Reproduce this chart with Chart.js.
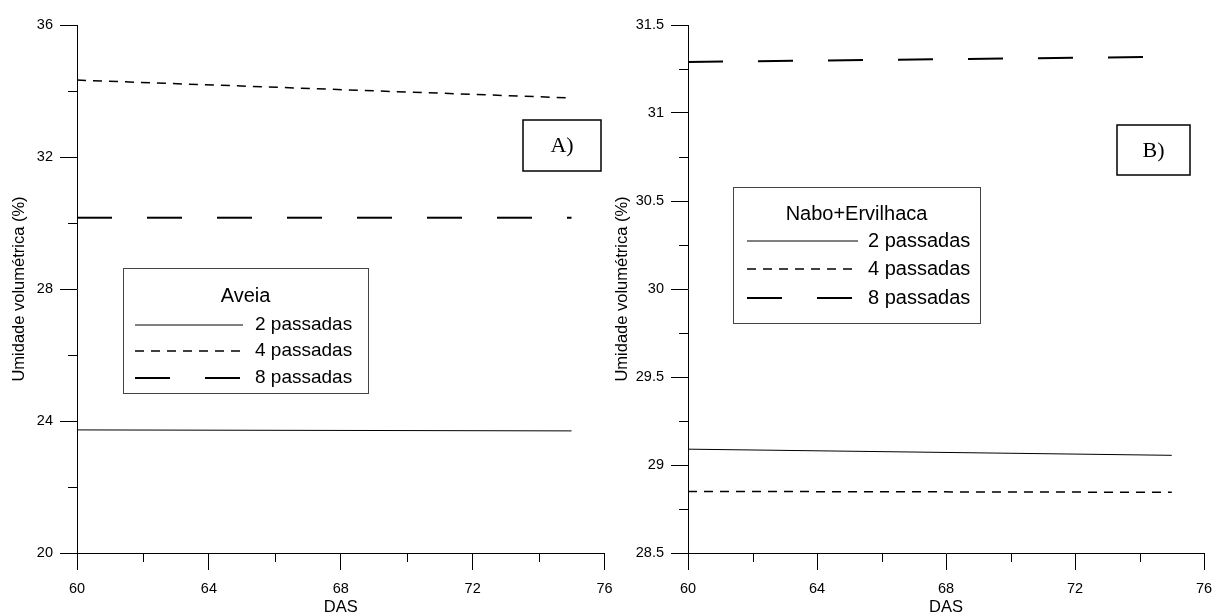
<!DOCTYPE html>
<html>
<head>
<meta charset="utf-8">
<script src="https://cdn.jsdelivr.net/npm/chart.js@4.4.1/dist/chart.umd.min.js"></script>
<style>
  html, body { margin: 0; padding: 0; background: #fff; }
  #chartA { position: absolute; left: 0; top: 0; }
  #chartB { position: absolute; left: 609px; top: 0; }
</style>
</head>
<body>
<canvas id="chartA" width="620" height="613"></canvas>
<canvas id="chartB" width="609" height="613"></canvas>
<script>
// DAS (dias após semeadura)
const das = [60, 75];

// A) Aveia
const aveia2 = [23.73, 23.70];
const aveia4 = [34.33, 33.79];
const aveia8 = [30.16, 30.16];

// B) Nabo+Ervilhaca
const nabo2 = [29.09, 29.055];
const nabo4 = [28.85, 28.845];
const nabo8 = [31.29, 31.32];

const seriesLabels = ['2 passadas', '4 passadas', '8 passadas'];

const xTicks = [60, 64, 68, 72, 76];
const xMinor = [62, 66, 70, 74];
const yTicksA = [20, 24, 28, 32, 36];
const yMinorA = [22, 26, 30, 34];
const yTicksB = [28.5, 29, 29.5, 30, 30.5, 31, 31.5];
const yMinorB = [28.75, 29.25, 29.75, 30.25, 30.75, 31.25];

const fontFamily = "'Liberation Sans', Arial, sans-serif";
const lineStyles = [
    { borderWidth: 1, borderDash: [] },
    { borderWidth: 1.5, borderDash: [9, 7] },
    { borderWidth: 2, borderDash: [35, 35] }
];

function toPoints(ys) {
    return das.map((x, i) => ({ x: x, y: ys[i] }));
}

// ticks secundários (menores) nos dois eixos
const minorTicks = {
    id: 'minorTicks',
    afterDraw(chart, args, opts) {
        const ctx = chart.ctx;
        const xs = chart.scales.x, ys = chart.scales.y;
        ctx.save();
        ctx.strokeStyle = '#000';
        ctx.lineWidth = 1;
        opts.x.forEach(v => {
            const px = Math.round(xs.getPixelForValue(v)) + 0.5;
            ctx.beginPath();
            ctx.moveTo(px, xs.top);
            ctx.lineTo(px, xs.top + opts.len);
            ctx.stroke();
        });
        opts.y.forEach(v => {
            const py = Math.round(ys.getPixelForValue(v)) + 0.5;
            ctx.beginPath();
            ctx.moveTo(ys.right, py);
            ctx.lineTo(ys.right - opts.len, py);
            ctx.stroke();
        });
        ctx.restore();
    }
};

// legenda com caixa, título e amostra das linhas
const boxLegend = {
    id: 'boxLegend',
    afterDraw(chart, args, opts) {
        const ctx = chart.ctx;
        const [bx, by, bw, bh] = opts.box;
        ctx.save();
        ctx.strokeStyle = '#444';
        ctx.lineWidth = 1;
        ctx.strokeRect(bx + 0.5, by + 0.5, bw, bh);
        ctx.fillStyle = '#000';
        ctx.textBaseline = 'middle';
        ctx.textAlign = 'center';
        ctx.font = opts.titleSize + 'px ' + fontFamily;
        ctx.fillText(opts.title, bx + bw / 2, opts.titleY);
        ctx.textAlign = 'left';
        ctx.font = opts.fontSize + 'px ' + fontFamily;
        ctx.strokeStyle = '#000';
        chart.data.datasets.forEach((ds, i) => {
            const y = opts.rows[i];
            ctx.beginPath();
            ctx.lineWidth = ds.borderWidth;
            ctx.setLineDash(ds.borderDash);
            ctx.moveTo(opts.lineX[0], y);
            ctx.lineTo(opts.lineX[1], y);
            ctx.stroke();
            ctx.setLineDash([]);
            ctx.fillText(ds.label, opts.textX, y);
        });
        // caixa com a letra do painel
        const [lx, ly, lw, lh] = opts.tag.box;
        ctx.lineWidth = 1.5;
        ctx.strokeRect(lx, ly, lw, lh);
        ctx.textAlign = 'center';
        ctx.font = "22px 'Liberation Serif', 'Times New Roman', serif";
        ctx.fillText(opts.tag.text, lx + lw / 2, ly + lh / 2 + 1);
        ctx.restore();
    }
};

function makeChart(id, series, yTicks, yMinor, cfg) {
    const yMin = yTicks[0], yMax = yTicks[yTicks.length - 1];
    return new Chart(document.getElementById(id), {
        type: 'line',
        data: {
            datasets: series.map((s, i) => ({
                label: seriesLabels[i],
                data: toPoints(s),
                borderColor: '#000',
                borderWidth: lineStyles[i].borderWidth,
                borderDash: lineStyles[i].borderDash,
                pointRadius: 0,
                fill: false,
                tension: 0
            }))
        },
        options: {
            responsive: false,
            animation: false,
            layout: { padding: { top: 25, right: cfg.padRight, left: 0, bottom: 0 } },
            scales: {
                x: {
                    type: 'linear',
                    min: 60,
                    max: 76,
                    afterBuildTicks: s => { s.ticks = xTicks.map(v => ({ value: v })); },
                    afterFit: s => { s.height = 60; s.paddingLeft = 0; s.paddingRight = 0; },
                    grid: { drawOnChartArea: false, tickLength: 17, color: '#000' },
                    border: { display: true, color: '#000' },
                    ticks: {
                        color: '#000',
                        padding: 10,
                        maxRotation: 0,
                        font: { family: fontFamily, size: 14.5 },
                        callback: v => String(v)
                    },
                    title: {
                        display: true,
                        text: 'DAS',
                        color: '#000',
                        padding: { top: 0, bottom: -4 },
                        font: { family: fontFamily, size: 16.5 }
                    }
                },
                y: {
                    type: 'linear',
                    min: yMin,
                    max: yMax,
                    afterBuildTicks: s => { s.ticks = yTicks.map(v => ({ value: v })); },
                    afterFit: s => { s.width = cfg.yWidth; s.paddingTop = 0; s.paddingBottom = 0; },
                    grid: { drawOnChartArea: false, tickLength: 17, color: '#000' },
                    border: { display: true, color: '#000' },
                    ticks: {
                        color: '#000',
                        padding: 7,
                        font: { family: fontFamily, size: 14.5 },
                        callback: v => String(v)
                    },
                    title: {
                        display: true,
                        text: 'Umidade volumétrica (%)',
                        color: '#000',
                        padding: { top: cfg.titlePad, bottom: 0 },
                        font: { family: fontFamily, size: 16.5 }
                    }
                }
            },
            plugins: {
                legend: { display: false },
                tooltip: { enabled: false },
                minorTicks: { x: xMinor, y: yMinor, len: 9 },
                boxLegend: cfg.legend
            }
        },
        plugins: [minorTicks, boxLegend]
    });
}

makeChart('chartA', [aveia2, aveia4, aveia8], yTicksA, yMinorA, {
    padRight: 15.5,
    yWidth: 77,
    titlePad: 10,
    legend: {
        title: 'Aveia',
        titleSize: 20,
        fontSize: 19,
        box: [123, 268, 245, 125],
        titleY: 296,
        rows: [325, 351, 378],
        lineX: [135, 243],
        textX: 255,
        tag: { text: 'A)', box: [523, 120, 78, 51] }
    }
});

makeChart('chartB', [nabo2, nabo4, nabo8], yTicksB, yMinorB, {
    padRight: 14,
    yWidth: 79,
    titlePad: 4,
    legend: {
        title: 'Nabo+Ervilhaca',
        titleSize: 20,
        fontSize: 20,
        box: [124, 187, 247, 136],
        titleY: 214,
        rows: [241, 269, 298],
        lineX: [138, 249],
        textX: 259,
        tag: { text: 'B)', box: [508, 125, 73, 50] }
    }
});
</script>
</body>
</html>
